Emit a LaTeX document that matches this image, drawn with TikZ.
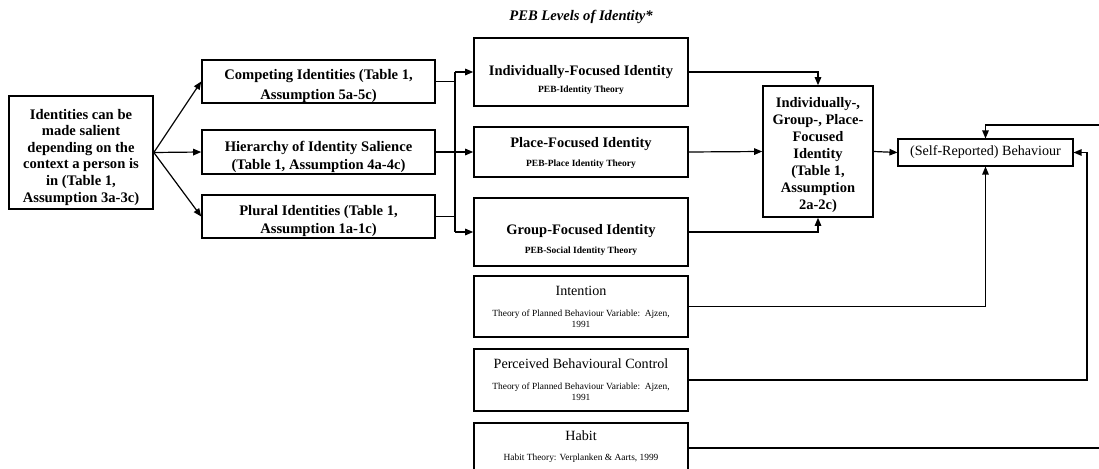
\documentclass[tikz,border=0pt]{standalone}
\usepackage{fontspec}
\setmainfont{Liberation Serif}
\usetikzlibrary{arrows.meta}
\newcommand\fntTitle{\fontsize{14.6}{17}\selectfont\bfseries\itshape}
\newcommand\fntLeft{\fontsize{14.6}{16.6}\selectfont\bfseries}
\newcommand\fntMidA{\fontsize{14.6}{20}\selectfont\bfseries}
\newcommand\fntMidB{\fontsize{14.6}{18}\selectfont\bfseries}
\newcommand\fntComb{\fontsize{14.5}{17}\selectfont\bfseries}
\newcommand\fntMainB{\fontsize{14.5}{17}\selectfont\bfseries}
\newcommand\fntSubB{\fontsize{9.5}{11}\selectfont\bfseries}
\newcommand\fntMainR{\fontsize{14.1}{17}\selectfont}
\newcommand\fntSubR{\fontsize{9.4}{11}\selectfont}
\begin{document}
\begin{tikzpicture}[x=1pt,y=-1pt,
  tbox/.style={draw, line width=1.6pt, inner sep=0pt},
  nbox/.style={draw, line width=1.1pt, inner sep=0pt, align=center},
  txt/.style={inner sep=0pt, align=center},
  conn/.style={line width=1.2pt},
  arr/.style={conn, -{Triangle[length=8pt,width=6.5pt]}}]
\path[use as bounding box] (0,0) rectangle (1099,468);
\clip (0,0) rectangle (1099,468);

\node[txt, font=\fntTitle] (title) at (581,17) {PEB Levels of Identity*};

\node[tbox, minimum width=144, minimum height=113] (left) at (81,152.5) {};
\node[txt, font=\fntLeft] (leftT) at (81,157)
  {Identities can be\\made salient\\depending on the\\context a person is\\in (Table 1,\\Assumption 3a-3c)};

\node[tbox, minimum width=233, minimum height=43] (comp) at (318.5,81.5) {};
\node[txt, font=\fntMidA] (compT) at (318.5,85.5) {Competing Identities (Table 1,\\Assumption 5a-5c)};
\node[tbox, minimum width=233, minimum height=44] (hier) at (318.5,152) {};
\node[txt, font=\fntMidB] (hierT) at (318.5,156.5) {Hierarchy of Identity Salience\\(Table 1, Assumption 4a-4c)};
\node[tbox, minimum width=233, minimum height=43] (plur) at (318.5,216.5) {};
\node[txt, font=\fntMidB] (plurT) at (318.5,220.5) {Plural Identities (Table 1,\\Assumption 1a-1c)};

\node[tbox, minimum width=214, minimum height=68] (ind) at (581,72) {};
\node[txt, font=\fntMainB] (indT) at (581,72) {Individually-Focused Identity};
\node[txt, font=\fntSubB] (indS) at (581,90) {PEB-Identity Theory};

\node[tbox, minimum width=214, minimum height=50] (place) at (581,152) {};
\node[txt, font=\fntMainB] (placeT) at (581,144) {Place-Focused Identity};
\node[txt, font=\fntSubB] (placeS) at (581,164) {PEB-Place Identity Theory};

\node[tbox, minimum width=214, minimum height=68] (group) at (581,232) {};
\node[txt, font=\fntMainB] (groupT) at (581,231) {Group-Focused Identity};
\node[txt, font=\fntSubB] (groupS) at (581,251) {PEB-Social Identity Theory};

\node[nbox, minimum width=214, minimum height=61] (intent) at (581,306.5) {};
\node[txt, font=\fntMainR] (intentT) at (581,291) {Intention};
\node[txt, font=\fntSubR] (intentS) at (581,318.5) {Theory of Planned Behaviour Variable:\ \ Ajzen,\\1991};

\node[nbox, minimum width=214, minimum height=62] (pbc) at (581,380) {};
\node[txt, font=\fntMainR] (pbcT) at (581,364) {Perceived Behavioural Control};
\node[txt, font=\fntSubR] (pbcS) at (581,391.5) {Theory of Planned Behaviour Variable:\ \ Ajzen,\\1991};

\node[nbox, minimum width=214, minimum height=62] (habit) at (581,454) {};
\node[txt, font=\fntMainR] (habitT) at (581,436) {Habit};
\node[txt, font=\fntSubR] (habitS) at (581,458) {Habit Theory: Verplanken \& Aarts, 1999};

\node[tbox, minimum width=110, minimum height=131] (comb) at (818,151.5) {};
\node[txt, font=\fntComb] (combT) at (818,155.5)
  {Individually-,\\Group-, Place-\\Focused\\Identity\\(Table 1,\\Assumption\\2a-2c)};

\node[nbox, minimum width=175, minimum height=27, font=\fntMainR] (beh) at (985.5,152.5)
  {(Self-Reported) Behaviour};

\coordinate (busT) at (455,72);
\coordinate (busB) at (455,232);
\coordinate (edgeTop) at (1099,125);
\coordinate (edgeHab) at (1099,448);
\coordinate (pbcTurn) at (1087,152.5);

% left fan-out
\draw[arr] (left.east) -- (comp.west);
\draw[arr] (left.east) -- (hier.west);
\draw[arr] (left.east) -- (plur.west);

% bus
\draw[conn] (comp.east) -- (comp.east -| busT);
\draw[conn] (plur.east) -- (plur.east -| busT);
\draw[conn] (busT) -- (busB);
\draw[arr] (busT) -- (ind.west);
\draw[arr] (busB) -- (group.west);
\draw[arr] (hier.east) -- (place.west);

% into combined box
\draw[arr] (ind.east) -| (comb.north);
\draw[arr] (group.east) -| (comb.south);
\draw[arr] (place.east) -- (comb.west);
\draw[arr] (comb.east) -- (beh.west);

% into behaviour
\draw[arr] (edgeTop) -| (beh.north);
\draw[arr] (intent.east) -| (beh.south);
\draw[arr] (pbc.east) -| (pbcTurn) -- (beh.east);
\draw[conn] ([yshift=6pt]habit.east) -- (edgeHab);
\end{tikzpicture}
\end{document}
